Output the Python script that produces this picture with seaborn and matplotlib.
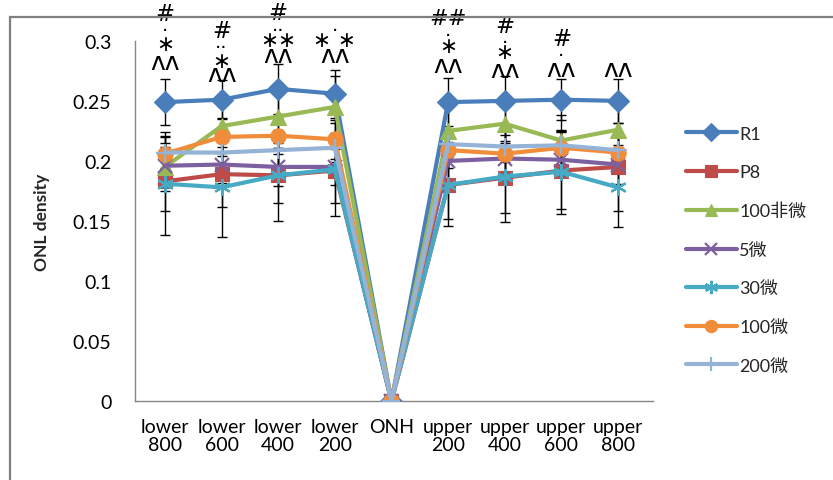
import matplotlib
matplotlib.use("Agg")
import matplotlib.pyplot as plt
import seaborn as sns
import numpy as np
from matplotlib.patches import Rectangle

# Category positions along the optic-nerve-head profile
categories = ["lower\n800", "lower\n600", "lower\n400", "lower\n200", "ONH\n ",
              "upper\n200", "upper\n400", "upper\n600", "upper\n800"]

series_names = ["R1", "P8", "100非微", "5微", "30微", "100微", "200微"]

r1       = [0.249, 0.251, 0.260, 0.256, 0.0, 0.249, 0.250, 0.251, 0.250]
p8       = [0.183, 0.189, 0.188, 0.192, 0.0, 0.180, 0.186, 0.192, 0.195]
g100_nm  = [0.195, 0.229, 0.237, 0.245, 0.0, 0.225, 0.231, 0.217, 0.226]
m5       = [0.196, 0.197, 0.195, 0.195, 0.0, 0.200, 0.202, 0.201, 0.197]
m30      = [0.181, 0.178, 0.188, 0.193, 0.0, 0.180, 0.187, 0.191, 0.178]
m100     = [0.206, 0.220, 0.221, 0.218, 0.0, 0.209, 0.206, 0.211, 0.207]
m200     = [0.207, 0.207, 0.209, 0.211, 0.0, 0.214, 0.212, 0.213, 0.209]

sd_r1      = [0.019, 0.016, 0.021, 0.020, 0.0, 0.020, 0.021, 0.017, 0.018]
sd_p8      = [0.025, 0.027, 0.023, 0.027, 0.0, 0.028, 0.029, 0.032, 0.037]
sd_g100_nm = [0.020, 0.022, 0.022, 0.026, 0.0, 0.022, 0.020, 0.021, 0.020]
sd_m5      = [0.016, 0.015, 0.016, 0.015, 0.0, 0.016, 0.015, 0.014, 0.016]
sd_m30     = [0.043, 0.041, 0.038, 0.039, 0.0, 0.034, 0.038, 0.035, 0.033]
sd_m100    = [0.015, 0.016, 0.015, 0.016, 0.0, 0.015, 0.016, 0.014, 0.015]
sd_m200    = [0.013, 0.012, 0.013, 0.012, 0.0, 0.012, 0.013, 0.012, 0.012]

values = [r1, p8, g100_nm, m5, m30, m100, m200]
errors = [sd_r1, sd_p8, sd_g100_nm, sd_m5, sd_m30, sd_m100, sd_m200]

colors = ["#4A7EBB", "#BE4B48", "#98B954", "#7D60A0", "#46AAC5", "#F08C3A", "#95B3D7"]
markers = ["D", "s", "^", "x", (6, 2, 0), "o", "+"]
msizes = [11, 10, 11, 10, 12, 11, 13]

# Significance marks: (category index, symbol, y position in data units)
sig_idx = [0, 0, 0, 0,
           1, 1, 1, 1,
           2, 2, 2, 2,
           3, 3, 3,
           5, 5, 5, 5,
           6, 6, 6, 6,
           7, 7, 7,
           8]
sig_txt = ["#", "·", "∗", "ʌʌ",
           "#", "··", "∗", "ʌʌ",
           "#", "··", "∗∗", "ʌʌ",
           "·", "∗ ∗", "ʌʌ",
           "##", "·", "∗", "ʌʌ",
           "#", "·", "∗", "ʌʌ",
           "#", "·", "ʌʌ",
           "ʌʌ"]
sig_y = [0.3225, 0.3085, 0.2975, 0.2825,
         0.3085, 0.2945, 0.2835, 0.2720,
         0.3240, 0.3085, 0.3010, 0.2885,
         0.3085, 0.3010, 0.2885,
         0.3190, 0.3045, 0.2955, 0.2800,
         0.3125, 0.2990, 0.2905, 0.2755,
         0.3020, 0.2880, 0.2765,
         0.2765]
sig_size = {"#": 16.5, "##": 16, "·": 14, "··": 14, "∗": 15.5, "∗∗": 15.5,
            "∗ ∗": 15.5, "ʌʌ": 18}

sns.set_style("white")
plt.rcParams["font.family"] = ["Lato", "Noto Sans CJK SC", "DejaVu Sans"]

fig = plt.figure(figsize=(8.33, 4.81), dpi=100)
ax = fig.add_axes([0.162, 0.164, 0.622, 0.749])

x = np.arange(len(categories))
mask = np.array([c.strip() != "ONH" for c in categories])

for vals, sd in zip(values, errors):
    vals = np.array(vals)
    sd = np.array(sd)
    ax.errorbar(x[mask], vals[mask], yerr=sd[mask], fmt="none", ecolor="black",
                elinewidth=1.0, capsize=3.6, capthick=1.0, zorder=1)

for i, (name, vals) in enumerate(zip(series_names, values)):
    thin = markers[i] in ("x", "+") or isinstance(markers[i], tuple)
    sns.lineplot(x=x, y=vals, ax=ax, color=colors[i], marker=markers[i],
                 markersize=msizes[i], linewidth=3, label=name,
                 markeredgecolor=colors[i], markeredgewidth=1.6 if thin else 0.8,
                 zorder=2 + i)

for xi, t, yi in zip(sig_idx, sig_txt, sig_y):
    ax.text(x[xi], yi, t, ha="center", va="center",
            fontsize=sig_size[t], family="DejaVu Sans", color="black",
            clip_on=False, zorder=20)

ax.set_xlim(-0.53, 8.62)
ax.set_ylim(0, 0.3)
ax.set_yticks([0, 0.05, 0.1, 0.15, 0.2, 0.25, 0.3])
ax.set_yticklabels(["0", "0.05", "0.1", "0.15", "0.2", "0.25", "0.3"])
ax.set_xticks(x)
ax.set_xticklabels(categories, linespacing=1.1)
ax.set_xlabel("")
ax.set_ylabel("ONL density", fontsize=12.5, fontweight="bold", labelpad=16)

for side in ("top", "right"):
    ax.spines[side].set_visible(False)
for side in ("left", "bottom"):
    ax.spines[side].set_color("#868686")
    ax.spines[side].set_linewidth(1.0)
ax.tick_params(axis="both", which="both", direction="out", length=5, width=1,
               color="#868686", labelsize=14, labelcolor="black")
ax.tick_params(axis="x", pad=7)
ax.tick_params(axis="y", pad=12)

leg = ax.legend(loc="upper left", bbox_to_anchor=(1.05, 0.785), frameon=False,
                fontsize=13, handlelength=2.8, handletextpad=0.15,
                labelspacing=1.25, borderaxespad=0)
for h in leg.legend_handles:
    h.set_markersize(h.get_markersize() * 0.8)

# Chart-area frame
fig.patches.append(Rectangle((10 / 833, -0.1), 1.2, 1 - 18 / 481 + 0.1,
                             transform=fig.transFigure, fill=False,
                             edgecolor="#7F7F7F", linewidth=1.6, zorder=0))

fig.savefig("out.png", dpi=100)
